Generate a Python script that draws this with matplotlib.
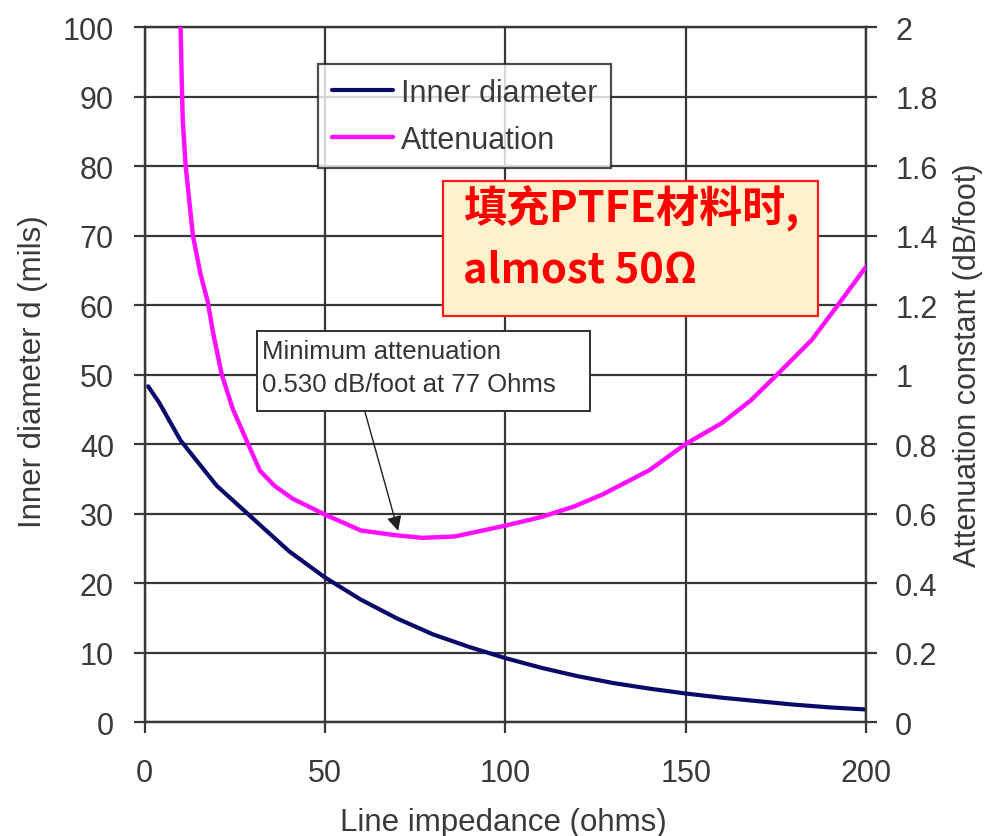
import matplotlib
matplotlib.use("Agg")
import matplotlib.pyplot as plt
from matplotlib.patches import Rectangle

# Coaxial line: inner conductor diameter and attenuation versus impedance
impedance_d = [1, 4, 10, 20, 30, 40, 50, 60, 70, 80, 90, 100,
               110, 120, 130, 140, 150, 160, 170, 180, 190, 200]
inner_diameter = [48.3, 46.0, 40.5, 34.0, 29.3, 24.6, 20.8, 17.6, 14.9, 12.6,
                  10.8, 9.2, 7.8, 6.6, 5.6, 4.8, 4.1, 3.5, 3.0, 2.5, 2.1, 1.8]

impedance_a = [10, 10.3, 10.6, 11.4, 13.4, 15.5, 17.5, 19, 21.4, 24.5, 28.7,
               32, 36, 41, 50, 60, 70, 77, 86, 100, 110, 119, 127, 140, 150,
               160, 168, 175, 185, 192, 200]
attenuation = [2.0, 1.85, 1.73, 1.60, 1.40, 1.29, 1.21, 1.12, 1.0, 0.90, 0.80,
               0.723, 0.68, 0.643, 0.597, 0.551, 0.537, 0.530, 0.534, 0.565,
               0.59, 0.62, 0.655, 0.725, 0.80, 0.86, 0.925, 0.996, 1.10,
               1.197, 1.31]

x_ticks = [0, 50, 100, 150, 200]
left_ticks = list(range(0, 101, 10))
right_ticks = [0, 0.2, 0.4, 0.6, 0.8, 1, 1.2, 1.4, 1.6, 1.8, 2]
right_labels = ["0", "0.2", "0.4", "0.6", "0.8", "1", "1.2", "1.4", "1.6", "1.8", "2"]

plt.rcParams['font.family'] = ['Liberation Sans', 'DejaVu Sans']
TXT = '#3a3a3a'
GRID = '#383838'

fig = plt.figure(figsize=(9.86, 8.37), dpi=100)
ax = fig.add_axes([0.1466, 0.1362, 0.7317, 0.8303])
ax2 = ax.twinx()

l1, = ax.plot(impedance_d, inner_diameter, color='#0a0a6a', lw=3.0,
              solid_capstyle='round', solid_joinstyle='round',
              label='Inner diameter', zorder=3)
l2, = ax2.plot(impedance_a, attenuation, color='#ff10ff', lw=3.2,
               solid_capstyle='round', solid_joinstyle='round',
               label='Attenuation', zorder=3)

ax.set_xlim(0, 200)
ax.set_ylim(0, 100)
ax2.set_ylim(0, 2)
ax.set_xticks(x_ticks)
ax.set_yticks(left_ticks)
ax2.set_yticks(right_ticks)
ax2.set_yticklabels(right_labels)

ax.grid(True, color=GRID, lw=1.6)
ax.set_axisbelow(True)
for a in (ax, ax2):
    for s in a.spines.values():
        s.set_color(GRID)
        s.set_linewidth(1.6)

ax.tick_params(axis='x', direction='out', length=8, width=1.6, color=GRID,
               labelsize=22, labelcolor=TXT, pad=18)
ax.tick_params(axis='y', direction='out', length=8, width=1.6, color=GRID,
               labelsize=22, labelcolor=TXT, pad=14)
ax2.tick_params(axis='y', direction='out', length=8, width=1.6, color=GRID,
                labelsize=22, labelcolor=TXT, pad=13)

ax.set_xlabel('Line impedance (ohms)', fontsize=22.5, color=TXT)
ax.xaxis.set_label_coords(0.497, -0.122)
ax.set_ylabel('Inner diameter d (mils)', fontsize=22.5, color=TXT)
ax.yaxis.set_label_coords(-0.134, 0.505)
ax2.set_ylabel('Attenuation constant (dB/foot)', fontsize=22, color=TXT,
               rotation=90)
ax2.yaxis.set_label_coords(1.121, 0.515)

leg = ax2.legend(handles=[l1, l2], loc='upper left',
                 bbox_to_anchor=(0.2405, 0.9468), borderaxespad=0,
                 fontsize=22, frameon=True, fancybox=False,
                 handlelength=2.0, handletextpad=0.26, borderpad=0.45,
                 labelspacing=0.55)
leg.get_frame().set_edgecolor('#202020')
leg.get_frame().set_linewidth(1.6)
for t in leg.get_texts():
    t.set_color(TXT)

# Callout for the attenuation minimum
ax2.add_patch(Rectangle((0.1559, 0.4475), 0.4616, 0.1151, transform=ax2.transAxes,
                        facecolor='white', edgecolor='#303030', lw=1.4, zorder=5))
ax2.text(0.1629, 0.5338, 'Minimum attenuation', transform=ax2.transAxes,
         fontsize=18.5, color='#333333', va='center', ha='left', zorder=6)
ax2.text(0.1629, 0.4863, '0.530 dB/foot at 77 Ohms', transform=ax2.transAxes,
         fontsize=18.5, color='#333333', va='center', ha='left', zorder=6)
ax2.annotate('', xy=(70.3, 0.55), xycoords='data',
             xytext=(0.3056, 0.4460), textcoords='axes fraction',
             arrowprops=dict(arrowstyle='-|>', color='#202020', lw=1.0,
                             mutation_scale=22, shrinkA=0, shrinkB=0),
             zorder=6)

# Highlighted note
ax2.add_patch(Rectangle((0.4137, 0.5842), 0.5198, 0.1942, transform=ax2.transAxes,
                        facecolor='#fff1cc', edgecolor='#ff1a1a', lw=1.6, zorder=7))
ax2.text(0.441, 0.7395, '填充PTFE材料时,', transform=ax2.transAxes,
         fontsize=31, color='#ff0000', fontweight='bold', va='center', ha='left',
         family=['Noto Sans CJK SC', 'DejaVu Sans'], zorder=8)
ax2.text(0.441, 0.6508, 'almost 50Ω', transform=ax2.transAxes,
         fontsize=30, color='#ff0000', fontweight='bold', va='center', ha='left',
         family=['Noto Sans CJK SC', 'DejaVu Sans'], zorder=8)

fig.savefig('out.png', dpi=100, facecolor='white')
